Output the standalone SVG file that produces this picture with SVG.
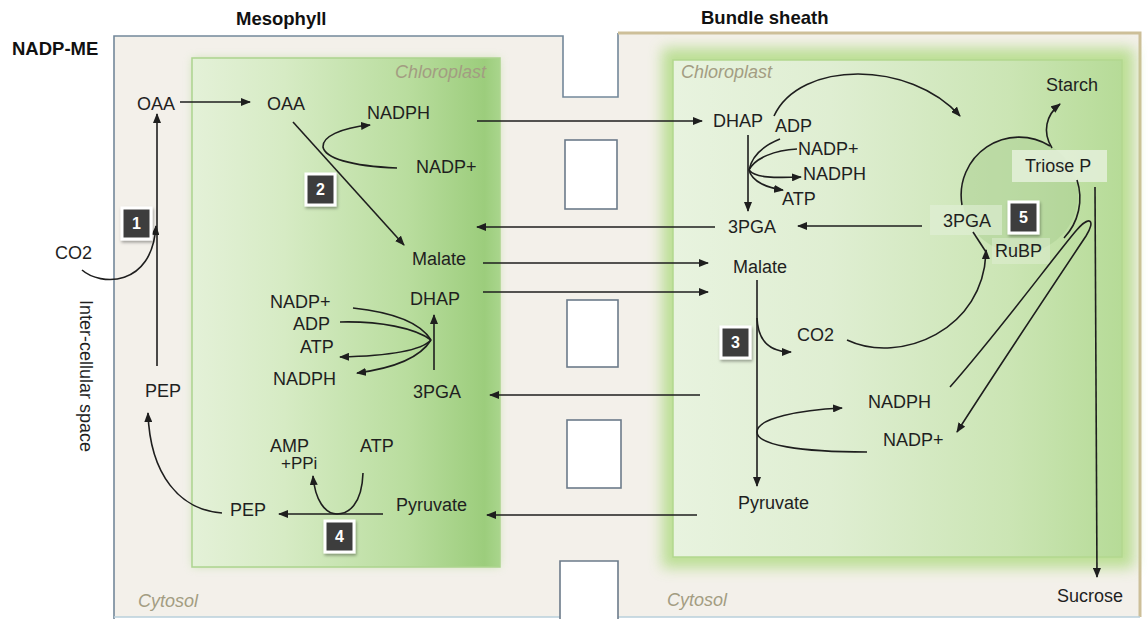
<svg xmlns="http://www.w3.org/2000/svg" width="1148" height="619" viewBox="0 0 1148 619">
<defs>
<style>
.t{font-family:"Liberation Sans",Arial,sans-serif;font-size:18px;fill:#1f1f1f}
.b{font-family:"Liberation Sans",Arial,sans-serif;font-size:18.5px;font-weight:bold;fill:#111}
.i{font-family:"Liberation Sans",Arial,sans-serif;font-size:18px;font-style:italic;fill:#a39d82}
.n{font-family:"Liberation Sans",Arial,sans-serif;font-size:16px;font-weight:bold;fill:#fff;text-anchor:middle}
.c{fill:none;stroke:#1e1e1e;stroke-width:1.6}
.a{fill:none;stroke:#1e1e1e;stroke-width:1.6;marker-end:url(#ah)}
.nb{fill:#3c3c3c;stroke:#fff;stroke-width:3;filter:url(#sh)}
.pd{fill:#fff;stroke:#6c7b8a;stroke-width:1.6}
</style>
<marker id="ah" viewBox="0 0 10 8" refX="9" refY="4" markerWidth="10" markerHeight="8" markerUnits="userSpaceOnUse" orient="auto">
<path d="M0,0 L10,4 L0,8 z" fill="#1e1e1e"/>
</marker>
<linearGradient id="mc" x1="0" y1="0" x2="1" y2="0">
<stop offset="0" stop-color="#e4f1d8"/>
<stop offset="0.3" stop-color="#d6ebc4"/>
<stop offset="0.7" stop-color="#b9dd9e"/>
<stop offset="0.95" stop-color="#9ccd7c"/>
<stop offset="1" stop-color="#a9d58c"/>
</linearGradient>
<linearGradient id="bc" x1="0" y1="0" x2="1" y2="0">
<stop offset="0" stop-color="#e8f3df"/>
<stop offset="0.35" stop-color="#dfeed2"/>
<stop offset="0.75" stop-color="#cbe5b4"/>
<stop offset="1" stop-color="#b6db97"/>
</linearGradient>
<filter id="bl" x="-10%" y="-10%" width="120%" height="120%"><feGaussianBlur stdDeviation="7"/></filter>
<filter id="bl2" x="-10%" y="-10%" width="120%" height="120%"><feGaussianBlur stdDeviation="4"/></filter>
<filter id="sh" x="-40%" y="-40%" width="180%" height="180%"><feDropShadow dx="1" dy="2" stdDeviation="1.5" flood-color="#000" flood-opacity="0.35"/></filter>
</defs>

<g id="background">
<rect x="0" y="0" width="1148" height="619" fill="#ffffff"/>
<path d="M114,36 L563,36 L563,97 L618,97 L618,33 L1140,33 L1140,617 L618,617 L618,561 L560,561 L560,617 L114,617 Z" fill="#f3f0ea"/>
<path d="M114,619 L114,36 L563,36 L563,97 L618,97 L618,33" fill="none" stroke="#73889a" stroke-width="1.6"/>
<path d="M618,33 L1140,33 L1140,617" fill="none" stroke="#cdbf99" stroke-width="3"/>
<path d="M114,617 L560,617 M618,617 L1140,617" fill="none" stroke="#b9cfdc" stroke-width="1.5"/>
</g>

<g id="mesophyll-chloroplast">
<rect x="192" y="58" width="308" height="509" fill="#b6dc98" filter="url(#bl2)" opacity="0.6"/>
<rect x="192" y="58" width="308" height="509" fill="url(#mc)" stroke="#acd48e" stroke-width="1.5"/>
</g>

<g id="bundle-sheath-chloroplast">
<rect x="662" y="48" width="472" height="520" fill="#b2dc86" filter="url(#bl)" opacity="0.85"/>
<rect x="673" y="60" width="449" height="497" fill="url(#bc)" stroke="#b3d78f" stroke-width="1.5"/>
</g>

<g id="plasmodesmata">
<rect class="pd" x="565" y="140" width="52" height="69"/>
<rect class="pd" x="567" y="300" width="51" height="67"/>
<rect class="pd" x="567" y="420" width="54" height="68"/>
<path d="M560,619 L560,561 L618,561 L618,619" fill="#fff" stroke="#6c7b8a" stroke-width="1.6"/>
</g>

<g id="calvin-cycle">
<circle cx="1020" cy="195" r="58" fill="#a7cc8f" opacity="0.45"/>
<rect x="930" y="205" width="72" height="30" fill="#e4f0da" opacity="0.55"/>
<rect x="992" y="238" width="58" height="26" fill="#e4f0da" opacity="0.45"/>
<rect x="1012" y="150" width="95" height="32" fill="#e4f0da" opacity="0.85"/>
</g>

<g id="titles">
<text class="b" x="12" y="55">NADP-ME</text>
<text class="b" x="236" y="25">Mesophyll</text>
<text class="b" x="701" y="24">Bundle sheath</text>
<text class="i" x="395" y="78">Chloroplast</text>
<text class="i" x="681" y="78">Chloroplast</text>
<text class="i" x="138" y="607">Cytosol</text>
<text class="i" x="667" y="606">Cytosol</text>
<text class="t" transform="translate(80,300) rotate(90)">Inter-cellular space</text>
</g>

<g id="mesophyll-nodes">
<text class="t" x="137" y="110">OAA</text>
<text class="t" x="267" y="110">OAA</text>
<text class="t" x="367" y="119">NADPH</text>
<text class="t" x="416" y="173">NADP+</text>
<text class="t" x="55" y="259">CO2</text>
<text class="t" x="145" y="397">PEP</text>
<text class="t" x="230" y="516">PEP</text>
<text class="t" x="396" y="511">Pyruvate</text>
<text class="t" x="270" y="452">AMP</text>
<text class="t" x="281" y="469" style="font-size:17px">+PPi</text>
<text class="t" x="360" y="452">ATP</text>
<text class="t" x="412" y="265">Malate</text>
<text class="t" x="410" y="305">DHAP</text>
<text class="t" x="413" y="398">3PGA</text>
<text class="t" x="270" y="308">NADP+</text>
<text class="t" x="293" y="330">ADP</text>
<text class="t" x="300" y="353">ATP</text>
<text class="t" x="273" y="385">NADPH</text>
</g>

<g id="bundle-sheath-nodes">
<text class="t" x="713" y="127">DHAP</text>
<text class="t" x="775" y="132">ADP</text>
<text class="t" x="798" y="155">NADP+</text>
<text class="t" x="803" y="180">NADPH</text>
<text class="t" x="782" y="205">ATP</text>
<text class="t" x="728" y="233">3PGA</text>
<text class="t" x="1046" y="91">Starch</text>
<text class="t" x="1025" y="172">Triose P</text>
<text class="t" x="943" y="227">3PGA</text>
<text class="t" x="995" y="257">RuBP</text>
<text class="t" x="733" y="273">Malate</text>
<text class="t" x="797" y="341">CO2</text>
<text class="t" x="868" y="408">NADPH</text>
<text class="t" x="883" y="446">NADP+</text>
<text class="t" x="738" y="509">Pyruvate</text>
<text class="t" x="1057" y="602">Sucrose</text>
</g>

<g id="connectors">
<path class="a" d="M180,102 L250,102"/>
<path class="a" d="M157,366 L157,114"/>
<path class="a" d="M82,270 C100,286 152,288 156,226"/>
<path class="a" d="M222,513 C180,510 150,475 148,413"/>
<path class="a" d="M293,122 L404,245"/>
<path class="a" d="M397,168 C350,166 325,158 323,147 C322,137 340,128 370,125"/>
<path class="c" d="M353,308 C390,312 420,322 431,340"/>
<path class="c" d="M340,322 C380,321 415,328 431,340"/>
<path class="a" d="M431,340 C420,352 385,356 340,357"/>
<path class="a" d="M431,340 C420,358 395,368 357,373"/>
<path class="a" d="M434,370 L434,315"/>
<path class="a" d="M383,514 L279,514"/>
<path class="a" d="M363,473 C362,505 348,514 337,514 C325,514 315,500 313,476"/>
<path class="a" d="M477,121 L702,121"/>
<path class="a" d="M715,227 L477,227"/>
<path class="a" d="M483,263 L708,263"/>
<path class="a" d="M483,292 L708,292"/>
<path class="a" d="M700,395 L490,395"/>
<path class="a" d="M697,515 L487,515"/>
<path class="a" d="M748,135 L748,211"/>
<path class="c" d="M780,139 C765,145 752,155 749,170"/>
<path class="c" d="M797,149 C775,150 755,158 749,170"/>
<path class="a" d="M749,170 C755,178 775,178 801,177"/>
<path class="a" d="M749,170 C752,182 768,188 783,190"/>
<path class="a" d="M774,116 C800,60 910,60 960,116"/>
<path class="a" d="M922,226 L798,226"/>
<path class="c" d="M962,205 A58,58 0 0 1 1050,146" stroke-width="2.2"/>
<path class="c" d="M1077,180 A58,58 0 0 1 1064,238" stroke-width="2.2"/>
<path class="a" d="M1052,148 C1042,132 1046,115 1060,104"/>
<path class="a" d="M1095,187 L1097,577"/>
<path class="a" d="M757,280 L757,486"/>
<path class="a" d="M757,318 C758,342 770,352 791,352"/>
<path class="a" d="M847,340 C900,365 985,330 986,250"/>
<path class="c" d="M986,252 L973,232" stroke-width="2"/>
<path class="c" d="M867,452 C800,452 757,445 757,432"/>
<path class="a" d="M757,432 C757,418 800,410 842,408"/>
<path class="a" d="M950,387 C1000,330 1050,262 1075,232 C1090,214 1096,220 1086,236 C1050,290 1000,365 957,432"/>
</g>

<g id="step-1"><rect class="nb" x="122" y="208" width="29" height="31"/><text class="n" x="136.5" y="229">1</text></g>
<g id="step-2"><rect class="nb" x="306" y="174" width="29" height="31"/><text class="n" x="320.5" y="195">2</text></g>
<g id="step-3"><rect class="nb" x="721" y="327" width="29" height="31"/><text class="n" x="735.5" y="348">3</text></g>
<g id="step-4"><rect class="nb" x="325" y="521" width="29" height="31"/><text class="n" x="339.5" y="542">4</text></g>
<g id="step-5"><rect class="nb" x="1009" y="202" width="29" height="31"/><text class="n" x="1023.5" y="223">5</text></g>
</svg>
